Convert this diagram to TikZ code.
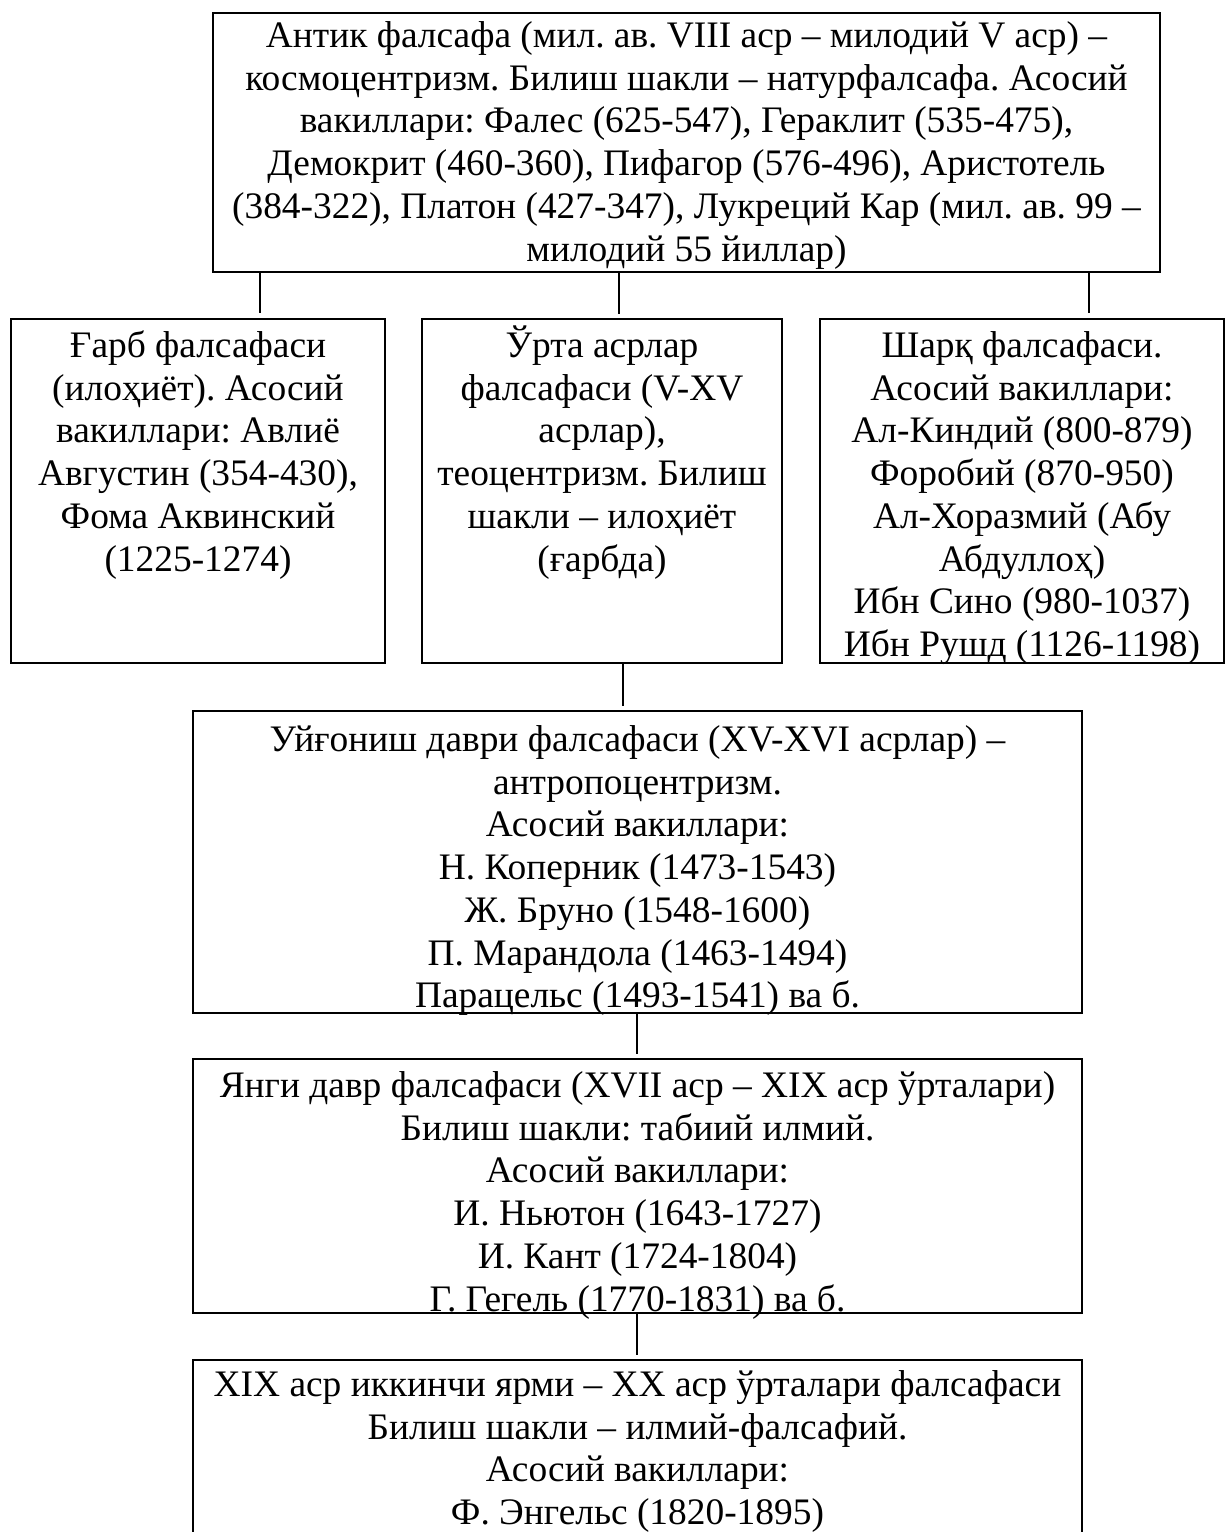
\documentclass[tikz,border=0pt]{standalone}
\usepackage{fontspec}
\setmainfont{Liberation Serif}
\frenchspacing
\newcommand\fstrut{\rule{0pt}{20pt}}
\begin{document}
\begin{tikzpicture}[x=0.5pt,y=-0.5pt,
  box/.style={draw=black, line width=0.85pt, inner sep=0pt},
  txt/.style={anchor=north, align=center, inner sep=0pt, font=\fontsize{18.7pt}{21.35pt}\selectfont\frenchspacing},
  conn/.style={draw=black, line width=0.6pt}]
\useasboundingbox (0,0) rectangle (1227,1532);
\fill[white] (0,0) rectangle (1227,1532);
\clip (0,0) rectangle (1227,1532);

% boxes
\node[box, minimum width=473.5pt, minimum height=129.5pt] (top) at (686.5,142.5) {};
\node[box, minimum width=187pt, minimum height=172pt] (left) at (198,491) {};
\node[box, minimum width=180pt, minimum height=172pt] (mid) at (602,491) {};
\node[box, minimum width=202pt, minimum height=172pt] (right) at (1022,491) {};
\node[box, minimum width=444.5pt, minimum height=151pt] (ren) at (637.5,862) {};
\node[box, minimum width=444.5pt, minimum height=127pt] (new) at (637.5,1186) {};
\node[box, minimum width=444.5pt, minimum height=140pt] (last) at (637.5,1500) {};

% texts
\node[txt] (topT) at ([yshift=2.5pt]top.north) {\fstrut Антик фалсафа (мил. ав. VIII аср – милодий V аср) –\\
космоцентризм. Билиш шакли – натурфалсафа. Асосий\\
вакиллари: Фалес (625-547), Гераклит (535-475),\\
Демокрит (460-360), Пифагор (576-496), Аристотель\\
(384-322), Платон (427-347), Лукреций Кар (мил. ав. 99 –\\
милодий 55 йиллар)};

\node[txt] (leftT) at ([yshift=0.5pt]left.north) {\fstrut Ғарб фалсафаси\\
(илоҳиёт). Асосий\\
вакиллари: Авлиё\\
Августин (354-430),\\
Фома Аквинский\\
(1225-1274)};

\node[txt] (midT) at ([yshift=0.5pt]mid.north) {\fstrut Ўрта асрлар\\
фалсафаси (V-XV\\
асрлар),\\
теоцентризм. Билиш\\
шакли – илоҳиёт\\
(ғарбда)};

\node[txt] (rightT) at ([yshift=0.5pt]right.north) {\fstrut Шарқ фалсафаси.\\
Асосий вакиллари:\\
Ал-Киндий (800-879)\\
Форобий (870-950)\\
Ал-Хоразмий (Абу\\
Абдуллоҳ)\\
Ибн Сино (980-1037)\\
Ибн Рушд (1126-1198)};

\node[txt] (renT) at ([yshift=-0.5pt]ren.north) {\fstrut Уйғониш даври фалсафаси (XV-XVI асрлар) –\\
антропоцентризм.\\
Асосий вакиллари:\\
Н. Коперник (1473-1543)\\
Ж. Бруно (1548-1600)\\
П. Марандола (1463-1494)\\
Парацельс (1493-1541) ва б.};

\node[txt] (newT) at ([yshift=0.5pt]new.north) {\fstrut Янги давр фалсафаси (XVII аср – XIX аср ўрталари)\\
Билиш шакли: табиий илмий.\\
Асосий вакиллари:\\
И. Ньютон (1643-1727)\\
И. Кант (1724-1804)\\
Г. Гегель (1770-1831) ва б.};

\node[txt] (lastT) at ([yshift=1.5pt]last.north) {\fstrut XIX аср иккинчи ярми – XX аср ўрталари фалсафаси\\
Билиш шакли – илмий-фалсафий.\\
Асосий вакиллари:\\
Ф. Энгельс (1820-1895)};

% connectors
\coordinate (c1) at (260,313);
\coordinate (c2) at (619,314);
\coordinate (c3) at (1089,313);
\coordinate (c4) at (623,706);
\coordinate (c5) at (637,1054);
\coordinate (c6) at (637,1355);
\draw[conn] (top.south -| c1) -- (c1);
\draw[conn] (top.south -| c2) -- (c2);
\draw[conn] (top.south -| c3) -- (c3);
\draw[conn] (mid.south -| c4) -- (c4);
\draw[conn] (ren.south -| c5) -- (c5);
\draw[conn] (new.south -| c6) -- (c6);
\end{tikzpicture}
\end{document}
